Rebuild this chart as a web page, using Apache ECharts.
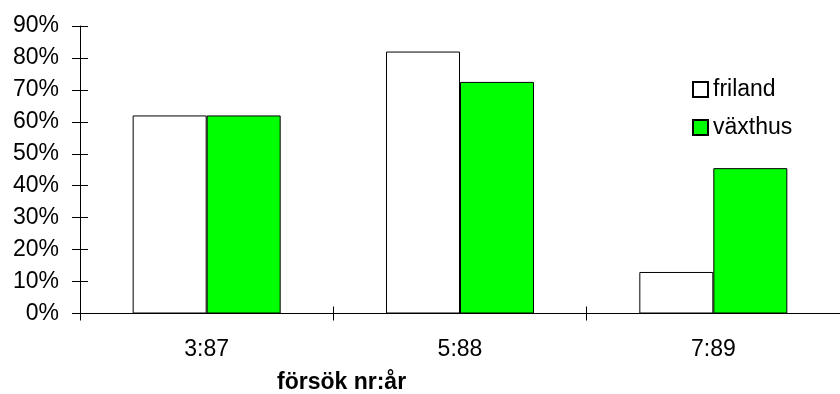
<!DOCTYPE html>
<html>
<head>
<meta charset="utf-8">
<script src="https://cdn.jsdelivr.net/npm/echarts@6/dist/echarts.min.js"></script>
<style>
  html, body { margin: 0; padding: 0; background: #fff; }
  #chart { width: 840px; height: 394px; }
</style>
</head>
<body>
<div id="chart"></div>
<script>
// Försök per år: andel (%) för friland och växthus
const categories = ['3:87', '5:88', '7:89'];
const friland = [62, 82, 13];
const vaxthus = [62, 72.5, 45.5];
const yTicks = [0, 10, 20, 30, 40, 50, 60, 70, 80, 90];

const FONT = 'Liberation Sans, Arial, sans-serif';
const FS = 23;
const chart = echarts.init(document.getElementById('chart'), null, { renderer: 'canvas' });

const tickStyle = { color: '#000', width: 1 };

chart.setOption({
  animation: false,
  backgroundColor: '#fff',
  textStyle: { fontFamily: FONT },
  grid: { left: 80, top: 26, width: 768, height: 287.5, containLabel: false },
  legend: {
    orient: 'vertical',
    left: 692,
    top: 78,
    padding: 0,
    itemWidth: 15,
    itemHeight: 15,
    itemGap: 15,
    icon: 'rect',
    textStyle: { fontFamily: FONT, fontSize: FS, color: '#000', lineHeight: 23 },
    data: ['friland', 'växthus']
  },
  xAxis: [{
    type: 'category',
    data: categories,
    boundaryGap: true,
    axisLine: { show: true, lineStyle: { color: '#000', width: 1 } },
    axisTick: { show: true, inside: false, length: 7, lineStyle: tickStyle },
    axisLabel: { color: '#000', fontSize: FS, fontFamily: FONT, margin: 25 },
    splitLine: { show: false }
  }, {
    // inner half of the crossing category ticks
    type: 'category',
    data: categories,
    position: 'bottom',
    boundaryGap: true,
    axisLine: { show: false },
    axisTick: { show: true, inside: true, length: 7, lineStyle: tickStyle },
    axisLabel: { show: false },
    splitLine: { show: false }
  }],
  yAxis: [{
    type: 'value',
    min: 0,
    max: 90,
    interval: 10,
    axisLine: { show: true, lineStyle: { color: '#000', width: 1 } },
    axisTick: { show: true, inside: false, length: 8, lineStyle: tickStyle },
    axisLabel: {
      color: '#000', fontSize: FS, fontFamily: FONT, margin: 21,
      formatter: v => yTicks.includes(v) ? v + '%' : ''
    },
    splitLine: { show: false }
  }, {
    // inner half of the crossing value ticks
    type: 'value',
    min: 0,
    max: 90,
    interval: 10,
    position: 'left',
    axisLine: { show: false },
    axisTick: { show: true, inside: true, length: 8, lineStyle: tickStyle },
    axisLabel: { show: false },
    splitLine: { show: false }
  }],
  series: [{
    name: 'friland',
    type: 'bar',
    data: friland,
    barWidth: 74,
    barGap: '0%',
    itemStyle: { color: '#ffffff', borderColor: '#000', borderWidth: 1 }
  }, {
    name: 'växthus',
    type: 'bar',
    data: vaxthus,
    barWidth: 74,
    barGap: '0%',
    itemStyle: { color: '#00ff00', borderColor: '#000', borderWidth: 1 }
  }],
  graphic: [{
    type: 'text',
    left: 277,
    top: 371,
    style: {
      text: 'försök nr:år',
      font: 'bold 23px ' + FONT,
      fill: '#000'
    }
  }]
});
</script>
</body>
</html>
